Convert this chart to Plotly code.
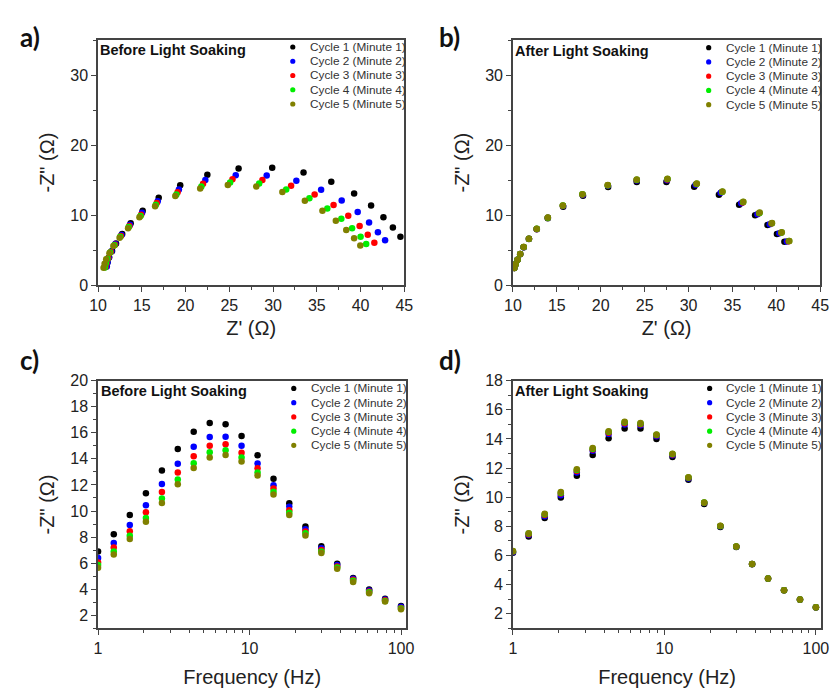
import plotly.graph_objects as go

# ---------------- data ----------------
freq_hz = [1, 1.27, 1.62, 2.07, 2.64, 3.36, 4.28, 5.46, 6.95, 8.86,
           11.3, 14.4, 18.3, 23.4, 29.8, 37.9, 48.3, 61.6, 78.5, 100]

cycle_labels = ["Cycle 1 (Minute 1)", "Cycle 2 (Minute 2)", "Cycle 3 (Minute 3)",
                "Cycle 4 (Minute 4)", "Cycle 5 (Minute 5)"]
cycle_colors = ["#000000", "#0000ff", "#ff0000", "#00ee00", "#808000"]

# Before light soaking: -Z'' (ohm)
before_zim_c1 = [6.9, 8.22, 9.7, 11.37, 13.1, 14.75, 16.07, 16.75, 16.65, 15.75, 14.27, 12.47, 10.6, 8.82, 7.3, 5.95, 4.87, 3.97, 3.27, 2.72]
before_zim_c2 = [6.4, 7.55, 8.92, 10.45, 12.07, 13.62, 14.92, 15.67, 15.7, 15.0, 13.65, 11.97, 10.32, 8.6, 7.15, 5.85, 4.8, 3.9, 3.22, 2.65]
before_zim_c3 = [6.05, 7.2, 8.45, 9.9, 11.45, 12.95, 14.2, 15.0, 15.12, 14.47, 13.27, 11.72, 10.05, 8.42, 7.0, 5.75, 4.72, 3.82, 3.15, 2.57]
before_zim_c4 = [5.85, 6.9, 8.1, 9.47, 10.95, 12.42, 13.67, 14.5, 14.65, 14.1, 12.95, 11.47, 9.87, 8.3, 6.9, 5.67, 4.65, 3.77, 3.1, 2.52]
before_zim_c5 = [5.65, 6.67, 7.85, 9.17, 10.62, 12.05, 13.3, 14.1, 14.3, 13.8, 12.72, 11.27, 9.7, 8.12, 6.77, 5.57, 4.55, 3.7, 3.05, 2.47]

# Before light soaking: Z' (ohm)
before_zre_c1 = [44.55, 43.69, 42.61, 41.2, 39.26, 36.65, 33.48, 29.9, 26.06, 22.49, 19.39, 16.93, 15.1, 13.73, 12.76, 12.05, 11.6, 11.27, 11.08, 10.93]
before_zre_c2 = [42.8, 41.98, 40.97, 39.67, 37.84, 35.49, 32.66, 29.27, 25.73, 22.26, 19.24, 16.82, 15.03, 13.65, 12.68, 11.98, 11.53, 11.23, 11.08, 11.0]
before_zre_c3 = [41.57, 40.82, 39.89, 38.59, 36.91, 34.75, 32.06, 28.78, 25.36, 22.0, 19.09, 16.71, 14.92, 13.58, 12.61, 11.94, 11.45, 11.16, 10.97, 10.86]
before_zre_c4 = [40.64, 40.0, 39.03, 37.8, 36.2, 34.15, 31.5, 28.41, 25.09, 21.81, 18.95, 16.6, 14.85, 13.5, 12.53, 11.86, 11.38, 11.08, 10.89, 10.78]
before_zre_c5 = [39.97, 39.26, 38.36, 37.17, 35.64, 33.63, 31.06, 28.08, 24.83, 21.67, 18.83, 16.52, 14.73, 13.43, 12.46, 11.75, 11.3, 10.93, 10.75, 10.63]

# After light soaking: -Z'' (ohm)
after_zim_c1 = [6.18, 7.31, 8.58, 9.98, 11.47, 12.89, 14.04, 14.71, 14.71, 14.0, 12.76, 11.2, 9.53, 7.96, 6.58, 5.4, 4.41, 3.61, 2.97, 2.43]
after_zim_c2 = [6.22, 7.4, 8.69, 10.13, 11.69, 13.18, 14.33, 14.98, 14.93, 14.18, 12.87, 11.29, 9.6, 8.0, 6.6, 5.41, 4.42, 3.62, 2.98, 2.44]
after_zim_c3 = [6.27, 7.46, 8.78, 10.25, 11.8, 13.28, 14.43, 15.08, 15.01, 14.25, 12.93, 11.33, 9.62, 8.02, 6.61, 5.42, 4.42, 3.62, 2.98, 2.44]
after_zim_c4 = [6.29, 7.5, 8.83, 10.31, 11.86, 13.33, 14.49, 15.14, 15.06, 14.28, 12.96, 11.35, 9.63, 8.03, 6.62, 5.42, 4.42, 3.62, 2.98, 2.44]
after_zim_c5 = [6.31, 7.53, 8.87, 10.36, 11.91, 13.38, 14.53, 15.18, 15.09, 14.31, 12.98, 11.36, 9.64, 8.04, 6.62, 5.42, 4.42, 3.62, 2.98, 2.44]

# After light soaking: Z' (ohm)
after_zre_c1 = [40.92, 40.07, 38.99, 37.58, 35.76, 33.46, 30.64, 27.48, 24.1, 20.84, 17.98, 15.72, 13.97, 12.71, 11.82, 11.22, 10.82, 10.52, 10.3, 10.15]
after_zre_c2 = [41.2, 40.35, 39.25, 37.85, 36.0, 33.66, 30.8, 27.55, 24.1, 20.82, 17.95, 15.7, 13.97, 12.71, 11.82, 11.22, 10.82, 10.52, 10.3, 10.15]
after_zre_c3 = [41.4, 40.55, 39.45, 38.03, 36.18, 33.82, 30.9, 27.58, 24.1, 20.8, 17.92, 15.68, 13.97, 12.71, 11.82, 11.22, 10.82, 10.52, 10.3, 10.15]
after_zre_c4 = [41.45, 40.6, 39.49, 38.08, 36.22, 33.85, 30.92, 27.6, 24.1, 20.8, 17.91, 15.68, 13.97, 12.71, 11.82, 11.22, 10.82, 10.52, 10.3, 10.15]
after_zre_c5 = [41.48, 40.62, 39.51, 38.1, 36.24, 33.87, 30.94, 27.6, 24.1, 20.8, 17.91, 15.68, 13.97, 12.71, 11.82, 11.22, 10.82, 10.52, 10.3, 10.15]

before_zim = [before_zim_c1, before_zim_c2, before_zim_c3, before_zim_c4, before_zim_c5]
before_zre = [before_zre_c1, before_zre_c2, before_zre_c3, before_zre_c4, before_zre_c5]
after_zim = [after_zim_c1, after_zim_c2, after_zim_c3, after_zim_c4, after_zim_c5]
after_zre = [after_zre_c1, after_zre_c2, after_zre_c3, after_zre_c4, after_zre_c5]

# ---------------- figure ----------------
W, H = 840, 691
FONT = "Liberation Sans"
AXC = "#444444"
TXT = "#222222"
MS = 6.5

fig = go.Figure()

panels = [
    ("x", "y", before_zre, before_zim),
    ("x2", "y2", after_zre, after_zim),
    ("x3", "y3", None, before_zim),
    ("x4", "y4", None, after_zim),
]
for xa, ya, xs, ys in panels:
    for i in range(5):
        fig.add_trace(go.Scatter(
            x=xs[i] if xs is not None else freq_hz, y=ys[i], mode="markers",
            xaxis=xa, yaxis=ya, name=cycle_labels[i], showlegend=False,
            marker=dict(color=cycle_colors[i], size=MS, line=dict(width=0)),
        ))

def px_x(p):
    return p / W

def px_y(p):
    return 1 - p / H

# domains (pixels)
dom = {
    1: ((91, 404), (33, 284)),
    2: ((515, 829), (33, 284)),
    3: ((91, 406), (382, 636)),
    4: ((515, 830), (382, 636)),
}

common_axis = dict(
    showline=True, linecolor=AXC, linewidth=1.5, mirror=True,
    ticks="outside", ticklen=5, tickwidth=1.2, tickcolor=AXC,
    showgrid=False, zeroline=False,
    tickfont=dict(family=FONT, size=16, color=TXT),
    title_font=dict(family=FONT, size=20, color=TXT),
)

lay = {}
for k in (1, 2, 3, 4):
    (x0, x1), (y0, y1) = dom[k]
    xname = "xaxis" if k == 1 else f"xaxis{k}"
    yname = "yaxis" if k == 1 else f"yaxis{k}"
    yref = "y" if k == 1 else f"y{k}"
    xref = "x" if k == 1 else f"x{k}"
    xa = dict(common_axis, domain=[px_x(x0), px_x(x1)], anchor=yref)
    ya = dict(common_axis, domain=[px_y(y1), px_y(y0)], anchor=xref)
    if k in (1, 2):
        xa.update(range=[10, 45], dtick=5, tick0=10,
                  minor=dict(ticks="outside", ticklen=3, dtick=2.5, tickcolor=AXC),
                  title=dict(text="Z' (Ω)", standoff=8))
        ya.update(range=[0, 35], dtick=10, tick0=0,
                  minor=dict(ticks="outside", ticklen=3, dtick=5, tickcolor=AXC),
                  title=dict(text='-Z" (Ω)', standoff=10))
    else:
        xa.update(type="log", range=[0, 2.035], tickvals=[1, 10, 100],
                  ticktext=["1", "10", "100"],
                  minor=dict(ticks="outside", ticklen=3, dtick="D1", tickcolor=AXC),
                  title=dict(text="Frequency (Hz)", standoff=14))
        if k == 3:
            ya.update(range=[1, 20], dtick=2, tick0=0,
                      minor=dict(ticks="outside", ticklen=3, dtick=1, tickcolor=AXC))
        else:
            ya.update(range=[1, 18], dtick=2, tick0=0,
                      minor=dict(ticks="outside", ticklen=3, dtick=1, tickcolor=AXC))
        ya.update(title=dict(text='-Z" (Ω)', standoff=10))
    lay[xname] = xa
    lay[yname] = ya

annotations = []
shapes = []

# panel letters
for txt, xp, yp in [("a)", 9, 30), ("b)", 437, 30), ("c)", 9, 361), ("d)", 437, 361)]:
    annotations.append(dict(text=f"<b>{txt}</b>", x=px_x(xp), y=px_y(yp), xref="paper", yref="paper",
                            xanchor="left", yanchor="middle", showarrow=False,
                            font=dict(family="Lato", size=26, color="#111111")))

# in-plot titles
for txt, xp, yp in [("Before Light Soaking", 91, 43), ("After Light Soaking", 515, 44),
                    ("Before Light Soaking", 92, 393), ("After Light Soaking", 515, 393)]:
    annotations.append(dict(text=f"<b>{txt}</b>", x=px_x(xp), y=px_y(yp), xref="paper", yref="paper",
                            xanchor="left", yanchor="middle", showarrow=False,
                            font=dict(family=FONT, size=14.5, color="#111111")))

# custom compact legends
legend_pos = [(290, 306, 40), (715, 731, 40.7), (291, 307, 390), (716, 731, 390)]
ROW = 14.6
for mx, tx, y0 in legend_pos:
    for i in range(5):
        yy = y0 + i * ROW
        shapes.append(dict(type="circle", xref="paper", yref="paper",
                           xsizemode="pixel", ysizemode="pixel",
                           xanchor=px_x(mx), yanchor=px_y(yy),
                           x0=-2.6, x1=2.6, y0=-2.6, y1=2.6,
                           fillcolor=cycle_colors[i], line=dict(width=0)))
        annotations.append(dict(text=cycle_labels[i], x=px_x(tx), y=px_y(yy),
                                xref="paper", yref="paper", xanchor="left", yanchor="middle",
                                showarrow=False,
                                font=dict(family=FONT, size=11.8, color="#333333")))

fig.update_layout(
    width=W, height=H,
    margin=dict(l=0, r=0, t=0, b=0),
    paper_bgcolor="white", plot_bgcolor="white",
    showlegend=False,
    annotations=annotations, shapes=shapes,
    **lay,
)

fig.write_html("out.html")
